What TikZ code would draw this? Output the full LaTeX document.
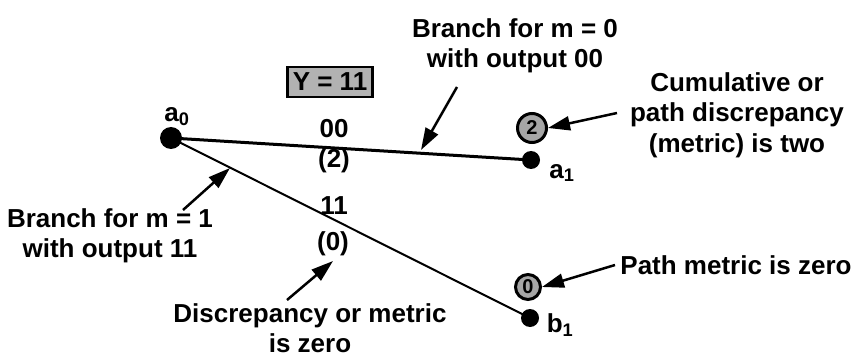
\documentclass[tikz,border=0pt]{standalone}
\usepackage{fontspec}
\setmainfont{Liberation Sans}
\usetikzlibrary{arrows.meta}
\begin{document}
\begin{tikzpicture}[x=1pt,y=-1pt,
  every node/.style={font=\bfseries\fontsize{26}{30.5}\selectfont},
  state/.style={circle,fill=black,inner sep=0pt,minimum size=#1},
  metric/.style={circle,draw=black,line width=3pt,fill=black!35,inner sep=0pt,minimum size=#1,font=\bfseries\fontsize{20}{20}\selectfont},
  branch/.style={draw=black,line width=#1},
  callout/.style={draw=black,line width=2.5pt,-{Triangle[length=22pt,width=14pt]}},
  note/.style={align=center,inner sep=0pt}]
\useasboundingbox (0,0) rectangle (864,358);

% trellis states
\node[state=22pt] (a0) at (171,138) {};
\node[state=18pt] (a1) at (531,160) {};
\node[state=18pt] (b1) at (530,318) {};
\node[inner sep=0pt] (la0) at (177,117) {a$_{\mathbf 0}$};
\node[inner sep=0pt] (la1) at (562,173) {a$_{\mathbf 1}$};
\node[inner sep=0pt] (lb1) at (560,325) {b$_{\mathbf 1}$};

% branches
\draw[branch=3pt] (a0.center) -- (a1.center);
\draw[branch=2pt] (a0.center) -- (b1.center);

% received pair
\node[draw=black,line width=2.5pt,fill=black!30,inner sep=0pt,minimum width=85pt,minimum height=30pt] (rx) at (330,82) {Y = 11};

% branch outputs and metrics
\node[inner sep=0pt] (o00) at (334,129) {00};
\node[inner sep=0pt] (m2) at (334,161) {(2)};
\node[inner sep=0pt] (o11) at (334,206) {11};
\node[inner sep=0pt] (m0) at (333,244) {(0)};

% path metrics
\node[metric=29pt] (pm2) at (532,128) {2};
\node[metric=25pt] (pm0) at (528,287) {0};

% annotations
\node[note] (n1) at (515,46) {Branch for m = 0\\with output 00};
\node[note] (n2) at (737,115) {Cumulative or\\path discrepancy\\(metric) is two};
\node[note] (n3) at (736,265) {Path metric is zero};
\node[note] (n4) at (110,236) {Branch for m = 1\\with output 11};
\node[note] (n5) at (310,328) {Discrepancy or metric\\is zero};

\coordinate (t1) at (457,87);
\coordinate (h1) at (421,150);
\coordinate (t2) at (617,113);
\coordinate (t3) at (615,265);
\coordinate (t4) at (183,210);
\coordinate (h4) at (230,168);
\coordinate (t5) at (287,300);
\coordinate (h5) at (333,261);

\draw[callout] (t1) -- (h1);
\draw[callout] (t2) -- (pm2.east);
\draw[callout] (t3) -- (pm0.east);
\draw[callout] (t4) -- (h4);
\draw[callout] (t5) -- (h5);
\end{tikzpicture}
\end{document}
